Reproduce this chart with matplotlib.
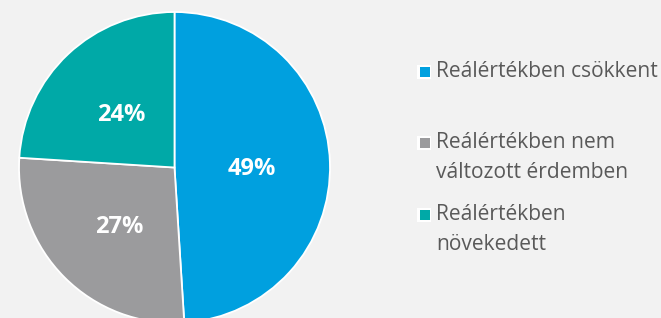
import matplotlib
matplotlib.use('Agg')
import matplotlib.pyplot as plt
import matplotlib.patches as patches

# Data
labels = ['Reálértékben csökkent',
          'Reálértékben nem\nváltozott érdemben',
          'Reálértékben\nnövekedett']
shares = [49, 27, 24]
colors = ['#00A0DF', '#9B9B9D', '#00A9A7']
bg = '#F2F2F2'
FONT = ['Open Sans', 'DejaVu Sans']

W, H = 661, 318
fig = plt.figure(figsize=(W / 100, H / 100), dpi=100)
fig.patch.set_facecolor(bg)

# pie: centre (174.5, 167.5) px, radius 155.5 px
cx, cy, r = 174.5, 167.5, 155.5
ax = fig.add_axes([(cx - r) / W, (H - cy - r) / H, 2 * r / W, 2 * r / H])
ax.set_facecolor(bg)
wedges, _, autotexts = ax.pie(
    shares, colors=colors, startangle=90, counterclock=False,
    autopct=lambda p: f'{p:.0f}%', pctdistance=0.5,
    wedgeprops=dict(edgecolor='white', linewidth=1.3),
    textprops=dict(color='white', fontsize=17, fontweight='bold',
                   family=FONT))
for t in autotexts:
    x, y = t.get_position()
    t.set_position((x, y - 0.026))
ax.set_xlim(-1, 1)
ax.set_ylim(-1, 1)
ax.set_aspect('auto')
ax.axis('off')

# legend drawn by hand
line_h = 29
entry_y = [72, 143, 215]   # px from top, first line centre
for lab, col, y in zip(labels, colors, entry_y):
    sq = 10
    fig.patches.append(patches.Rectangle(
        ((424.5 - sq / 2 - 2) / W, (H - y - sq / 2 - 2) / H),
        (sq + 4) / W, (sq + 4) / H, transform=fig.transFigure,
        facecolor='white', edgecolor='none'))
    fig.patches.append(patches.Rectangle(
        ((424.5 - sq / 2) / W, (H - y - sq / 2) / H), sq / W, sq / H,
        transform=fig.transFigure, facecolor=col, edgecolor='none'))
    for i, part in enumerate(lab.split('\n')):
        fig.text(436 / W, (H - y - i * line_h) / H, part,
                 ha='left', va='center', fontsize=15.1, color='#595959',
                 family=FONT)

fig.savefig('out.png', dpi=100, facecolor=bg)
